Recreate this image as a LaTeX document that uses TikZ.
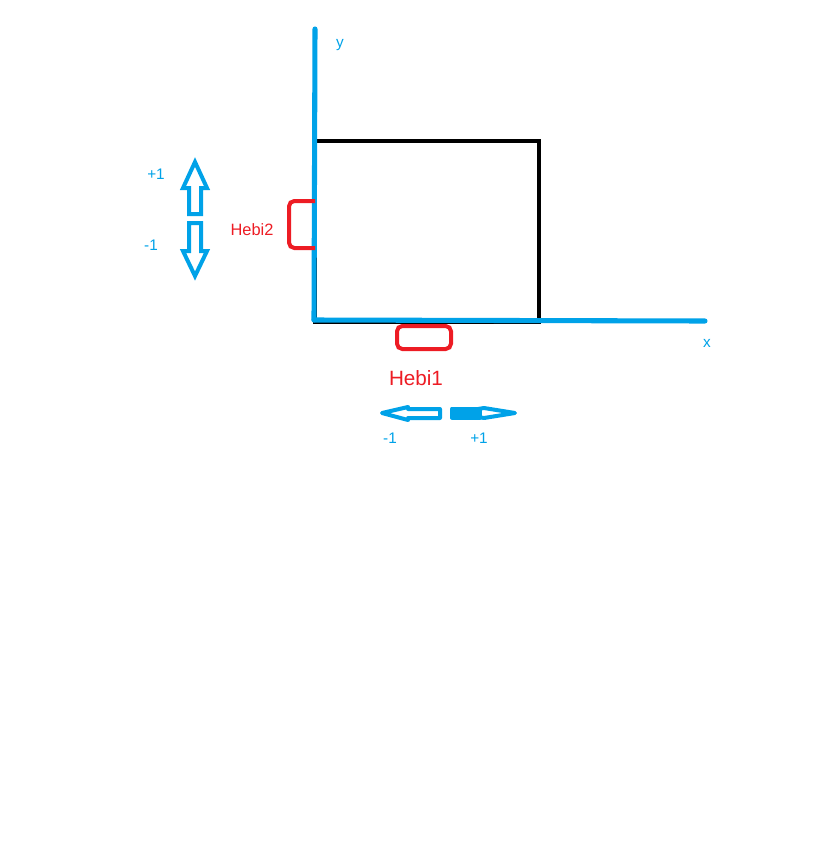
\documentclass[tikz,border=0pt]{standalone}
\usepackage{fontspec}
\setmainfont{Liberation Sans}
\definecolor{pblue}{HTML}{00A2E8}
\definecolor{pred}{HTML}{ED1C24}
\begin{document}
\begin{tikzpicture}[x=0.75pt,y=-0.75pt,
  axis/.style={draw=pblue,line width=3.8pt,line cap=round},
  frame/.style={draw=black,line width=3pt},
  hebi/.style={draw=pred,line width=3pt,rounded corners=4pt},
  lblue/.style={text=pblue,font=\fontsize{11.5}{12}\selectfont,inner sep=0pt},
  lred/.style={text=pred,inner sep=0pt},
  arr/.style={draw=pblue,line width=3pt,line join=miter},
  harr/.style={draw=pblue,line width=3pt,line join=round}]
\useasboundingbox (0,0) rectangle (823,858);
% frame
\draw[frame] (315,141) rectangle (539,322);
% axes
\coordinate (O) at (314,320);
\coordinate (Ytop) at (315,29);
\coordinate (Xend) at (705,321);
\draw[axis] (O) -- (Ytop);
\draw[axis] (O) -- (Xend);
% hebi modules
\draw[hebi] (315,201) -- (289,201) -- (289,248) -- (315,248);
\draw[hebi] (397,326) rectangle (451,349);
% labels
\node[lblue] (ylab) at (340,45) {y};
\node[lblue] (xlab) at (707,343) {x};
\node[lred,font=\fontsize{12.3}{14}\selectfont] (h2) at (252,230) {Hebi2};
\node[lred,font=\fontsize{15.5}{18}\selectfont] (h1) at (416,378) {Hebi1};
\node[lblue] (p1v) at (156,174) {+1};
\node[lblue] (m1v) at (151,245) {-1};
\node[lblue] (m1h) at (390,438) {-1};
\node[lblue] (p1h) at (479,438) {+1};
% up arrow
\draw[arr] (195,162) -- (207,188) -- (201,188) -- (201,214) -- (189,214) -- (189,188) -- (183,188) -- cycle;
% down arrow
\draw[arr] (195,276) -- (207,251) -- (201,251) -- (201,223) -- (189,223) -- (189,251) -- (183,251) -- cycle;
% left arrow
\draw[harr] (382,413) -- (408,407) -- (408,409) -- (440,409) -- (440,418) -- (408,418) -- (408,420) -- cycle;
% right arrow
\draw[harr,fill=pblue] (452,408.5) -- (480,408.5) -- (480,417.5) -- (452,417.5) -- cycle;
\draw[harr] (515,413) -- (484,408) -- (478,409) -- (478,417) -- (484,418) -- cycle;
\end{tikzpicture}
\end{document}
